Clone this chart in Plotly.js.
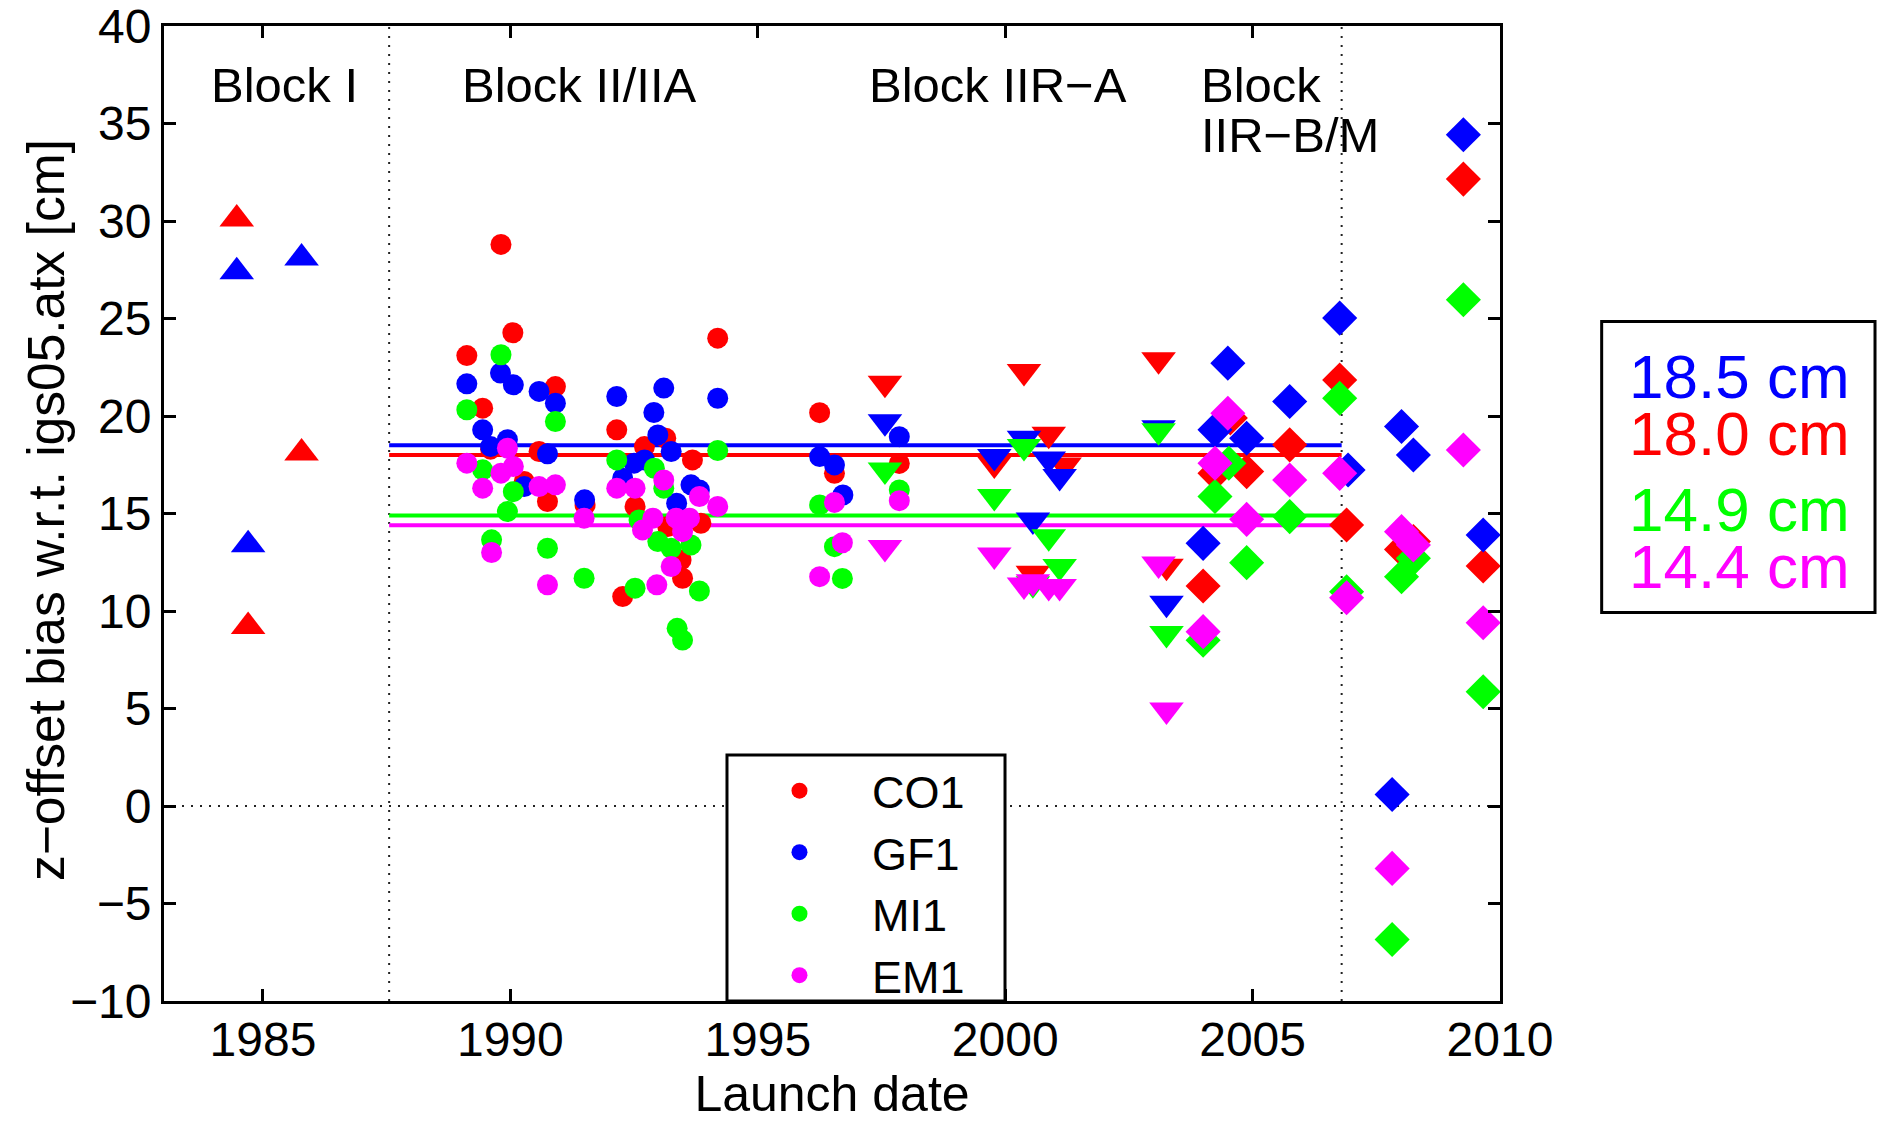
<!DOCTYPE html>
<html><head><meta charset="utf-8">
<script src="https://cdn.plot.ly/plotly-3.0.1.min.js"></script>
<style>html,body{margin:0;padding:0;background:#fff;}#chart{width:1877px;height:1125px;}</style>
</head><body><div id="chart"></div>
<script>
// ---------------- DATA ----------------
const seriesNames = ['CO1', 'GF1', 'MI1', 'EM1'];
const meanValues = [18.0, 18.5, 14.9, 14.4];          // CO1, GF1, MI1, EM1 mean bias [cm]
const blockBounds = [1987.55, 2006.8];                  // Block I | II/IIA ... IIR-B/M boundaries
const blockLabels = ['Block I', 'Block II/IIA', 'Block IIR\u2212A', 'Block', 'IIR\u2212B/M'];
const xTickVals = [1985, 1990, 1995, 2000, 2005, 2010];
const yTickVals = [-10, -5, 0, 5, 10, 15, 20, 25, 30, 35, 40];
const xTitle = 'Launch date';
const yTitle = 'z\u2212offset bias w.r.t. igs05.atx [cm]';

// Block I (up triangles)
const blkI_CO1_x = [1984.47, 1984.70, 1985.78];
const blkI_CO1_y = [30.1, 9.2, 18.1];
const blkI_GF1_x = [1984.47, 1984.70, 1985.78];
const blkI_GF1_y = [27.4, 13.4, 28.1];

// Block II/IIA (circles)
const blkII_CO1_x = [1989.12, 1989.44, 1989.60, 1989.81, 1990.05, 1990.28, 1990.58, 1990.75, 1990.91, 1991.51, 1992.15, 1992.27, 1992.52, 1992.71, 1993.14, 1993.18, 1993.45, 1993.48, 1993.68, 1993.85, 1994.19, 1996.25, 1996.55, 1997.86];
const blkII_CO1_y = [23.1, 20.4, 18.3, 28.8, 24.27, 16.64, 18.18, 15.61, 21.51, 15.44, 19.29, 10.74, 15.36, 18.43, 18.86, 14.33, 12.62, 11.68, 17.75, 14.5, 23.99, 20.17, 17.06, 17.57];
const blkII_GF1_x = [1989.12, 1989.44, 1989.60, 1989.80, 1989.94, 1990.06, 1990.28, 1990.58, 1990.75, 1990.91, 1991.50, 1992.15, 1992.27, 1992.50, 1992.71, 1992.90, 1992.98, 1993.10, 1993.25, 1993.36, 1993.65, 1993.82, 1994.19, 1996.25, 1996.55, 1996.72, 1997.86];
const blkII_GF1_y = [21.65, 19.29, 18.43, 22.2, 18.78, 21.6, 16.38, 21.26, 18.06, 20.66, 15.7, 21.0, 16.81, 17.58, 17.75, 20.18, 19.03, 21.43, 18.18, 15.53, 16.47, 16.21, 20.91, 17.92, 17.49, 15.95, 18.94];
const blkII_MI1_x = [1989.12, 1989.44, 1989.62, 1989.81, 1989.94, 1990.06, 1990.75, 1990.91, 1991.49, 1992.15, 1992.52, 1992.60, 1992.91, 1992.98, 1993.10, 1993.25, 1993.37, 1993.48, 1993.65, 1993.82, 1994.19, 1996.25, 1996.55, 1996.71, 1997.86];
const blkII_MI1_y = [20.32, 17.24, 13.65, 23.14, 15.1, 16.12, 13.22, 19.72, 11.68, 17.75, 11.17, 14.67, 17.32, 13.56, 16.3, 13.22, 9.11, 8.51, 13.39, 11.03, 18.23, 15.44, 13.3, 11.67, 16.21];
const blkII_EM1_x = [1989.12, 1989.44, 1989.62, 1989.81, 1989.94, 1990.06, 1990.58, 1990.91, 1990.75, 1991.49, 1992.15, 1992.52, 1992.67, 1992.88, 1992.96, 1993.10, 1993.25, 1993.35, 1993.48, 1993.62, 1993.82, 1994.19, 1996.25, 1996.55, 1996.71, 1997.86];
const blkII_EM1_y = [17.58, 16.3, 13.0, 17.07, 18.35, 17.41, 16.38, 16.47, 11.34, 14.76, 16.3, 16.3, 14.16, 14.76, 11.34, 16.72, 12.28, 14.76, 14.07, 14.76, 15.87, 15.36, 11.76, 15.57, 13.5, 15.66];

// Block IIR-A (down triangles)
const blkIIRA_CO1_x = [1997.57, 1999.78, 2000.38, 2000.56, 2000.88, 2001.20, 2003.10, 2003.26];
const blkIIRA_CO1_y = [21.68, 17.54, 22.28, 11.93, 19.07, 17.49, 22.88, 12.3];
const blkIIRA_GF1_x = [1997.57, 1999.78, 2000.38, 2000.56, 2000.88, 2001.10, 2003.10, 2003.26];
const blkIIRA_GF1_y = [19.71, 17.92, 18.86, 14.67, 17.8, 16.9, 19.4, 10.4];
const blkIIRA_MI1_x = [1997.57, 1999.78, 2000.38, 2000.56, 2000.88, 2001.10, 2003.10, 2003.26];
const blkIIRA_MI1_y = [17.23, 15.87, 18.43, 11.4, 13.81, 12.28, 19.25, 8.85];
const blkIIRA_EM1_x = [1997.57, 1999.78, 2000.38, 2000.56, 2000.88, 2001.10, 2003.10, 2003.26];
const blkIIRA_EM1_y = [13.25, 12.87, 11.33, 11.5, 11.25, 11.25, 12.41, 4.92];

// Block IIR-B/M (diamonds)
const blkIIRB_CO1_x = [2004.00, 2004.24, 2004.55, 2004.88, 2005.75, 2006.76, 2006.90, 2008.01, 2008.25, 2009.26, 2009.66];
const blkIIRB_CO1_y = [11.28, 17.06, 19.9, 17.15, 18.52, 21.85, 14.41, 13.16, 13.56, 32.15, 12.31];
const blkIIRB_GF1_x = [2004.00, 2004.24, 2004.50, 2004.88, 2005.75, 2006.76, 2006.93, 2007.82, 2008.01, 2008.25, 2009.26, 2009.66];
const blkIIRB_GF1_y = [13.47, 19.29, 22.71, 18.86, 20.74, 25.02, 17.23, 0.59, 19.46, 18.0, 34.42, 13.9];
const blkIIRB_MI1_x = [2004.00, 2004.24, 2004.52, 2004.88, 2005.75, 2006.76, 2006.90, 2007.82, 2008.01, 2008.25, 2009.26, 2009.66];
const blkIIRB_MI1_y = [8.5, 15.87, 17.58, 12.48, 14.84, 20.91, 10.99, -6.85, 11.76, 12.7, 25.96, 5.86];
const blkIIRB_EM1_x = [2004.00, 2004.24, 2004.50, 2004.88, 2005.75, 2006.76, 2006.90, 2007.82, 2008.01, 2008.25, 2009.26, 2009.66];
const blkIIRB_EM1_y = [8.94, 17.58, 20.14, 14.7, 16.72, 17.06, 10.68, -3.2, 14.07, 13.39, 18.26, 9.4];

// ---------------- STYLE ----------------
const colors = {CO1: '#ff0000', GF1: '#0000ff', MI1: '#00ff00', EM1: '#ff00ff'};
const FONT = 'Liberation Sans, Arial, Helvetica, sans-serif';

const blocks = {
  I:    {sym: 'triangle-up',   size: 30, data: {CO1: [blkI_CO1_x, blkI_CO1_y], GF1: [blkI_GF1_x, blkI_GF1_y]}},
  II:   {sym: 'circle',        size: 21, data: {CO1: [blkII_CO1_x, blkII_CO1_y], GF1: [blkII_GF1_x, blkII_GF1_y], MI1: [blkII_MI1_x, blkII_MI1_y], EM1: [blkII_EM1_x, blkII_EM1_y]}},
  IIRA: {sym: 'triangle-down', size: 30, data: {CO1: [blkIIRA_CO1_x, blkIIRA_CO1_y], GF1: [blkIIRA_GF1_x, blkIIRA_GF1_y], MI1: [blkIIRA_MI1_x, blkIIRA_MI1_y], EM1: [blkIIRA_EM1_x, blkIIRA_EM1_y]}},
  IIRB: {sym: 'diamond',       size: 27, data: {CO1: [blkIIRB_CO1_x, blkIIRB_CO1_y], GF1: [blkIIRB_GF1_x, blkIIRB_GF1_y], MI1: [blkIIRB_MI1_x, blkIIRB_MI1_y], EM1: [blkIIRB_EM1_x, blkIIRB_EM1_y]}}
};

const traces = [];
// mean lines (under markers)
seriesNames.forEach((s, i) => {
  traces.push({
    x: [blockBounds[0], blockBounds[1]], y: [meanValues[i], meanValues[i]],
    type: 'scatter', mode: 'lines', line: {color: colors[s], width: 4},
    showlegend: false, hoverinfo: 'skip'
  });
});
seriesNames.forEach(s => {
  ['I', 'II', 'IIRA', 'IIRB'].forEach(b => {
    const d = blocks[b].data[s];
    if (!d) return;
    traces.push({
      x: d[0], y: d[1], type: 'scatter', mode: 'markers', name: s,
      showlegend: b === 'II',
      marker: {symbol: blocks[b].sym, size: blocks[b].size, color: colors[s], line: {width: 0}}
    });
  });
});

const W = 1877, H = 1125;
const mL = 164, mR = 377, mT = 26, mB = 124;

const annotations = [];
// block labels
const blkPos = [[1983.9, 36.96], [1988.98, 36.96], [1997.2, 36.96], [2003.91, 36.96], [2003.91, 34.42]];
blockLabels.forEach((t, i) => {
  annotations.push({text: t, x: blkPos[i][0], y: blkPos[i][1], xref: 'x', yref: 'y',
    xanchor: 'left', yanchor: 'middle', showarrow: false, font: {size: 49, color: '#000', family: FONT}});
});
// y axis title
annotations.push({text: yTitle, x: -0.0878, y: 0.5033, xref: 'paper', yref: 'paper', textangle: -90,
  xanchor: 'center', yanchor: 'middle', showarrow: false, font: {size: 51.5, color: '#000', family: FONT}});
// mean value box (order: GF1, CO1, MI1, EM1)
const boxOrder = [1, 0, 2, 3];
const boxY = [0.6408, 0.5818, 0.5044, 0.4461];
boxOrder.forEach((si, k) => {
  annotations.push({text: meanValues[si].toFixed(1) + ' cm', x: 1.0948, y: boxY[k], xref: 'paper', yref: 'paper',
    xanchor: 'left', yanchor: 'middle', showarrow: false, font: {size: 62, color: colors[seriesNames[si]], family: FONT}});
});

const dotLine = {color: '#222', width: 2, dash: '2px,7px'};
const shapes = [
  {type: 'line', xref: 'x', yref: 'paper', x0: blockBounds[0], x1: blockBounds[0], y0: 0, y1: 1, layer: 'below', line: dotLine},
  {type: 'line', xref: 'x', yref: 'paper', x0: blockBounds[1], x1: blockBounds[1], y0: 0, y1: 1, layer: 'below', line: dotLine},
  {type: 'line', xref: 'paper', yref: 'y', x0: 0, x1: 1, y0: 0, y1: 0, layer: 'below', line: dotLine},
  // legend frame
  {type: 'rect', xref: 'paper', yref: 'paper', x0: 0.4214, x1: 0.6295, y0: 0, y1: 0.2524, layer: 'above',
    line: {color: '#000', width: 3}, fillcolor: '#ffffff'},
  // mean value box frame
  {type: 'rect', xref: 'paper', yref: 'paper', x0: 1.0761, x1: 1.2807, y0: 0.3985, y1: 0.697,
    line: {color: '#000', width: 3}, fillcolor: 'rgba(0,0,0,0)'}
];

const axisCommon = {
  showline: true, linecolor: '#000', linewidth: 3, mirror: 'ticks',
  ticks: 'inside', ticklen: 12, tickwidth: 3, tickcolor: '#000',
  showgrid: false, zeroline: false, tickmode: 'array', ticklabeloverflow: 'allow',
  tickfont: {size: 48, color: '#000', family: FONT}
};

const layout = {
  width: W, height: H,
  margin: {l: mL, r: mR, t: mT, b: mB},
  paper_bgcolor: '#fff', plot_bgcolor: '#fff',
  font: {family: FONT, color: '#000'},
  xaxis: Object.assign({}, axisCommon, {range: [1983, 2010.0001], tickvals: xTickVals, ticklabelstandoff: -6,
    title: {text: xTitle, font: {size: 50, color: '#000', family: FONT}, standoff: 8}}),
  yaxis: Object.assign({}, axisCommon, {range: [-10.0001, 40.0001], tickvals: yTickVals}),
  legend: {x: 0.4214, y: 0.2524, xanchor: 'left', yanchor: 'top', bgcolor: 'rgba(0,0,0,0)',
    borderwidth: 0, font: {size: 45, color: '#000', family: FONT},
    itemwidth: 135, tracegroupgap: 0, itemsizing: 'trace'},
  showlegend: true,
  annotations: annotations,
  shapes: shapes
};

Plotly.newPlot('chart', traces, layout, {displayModeBar: false, staticPlot: true});
</script>
</body></html>
